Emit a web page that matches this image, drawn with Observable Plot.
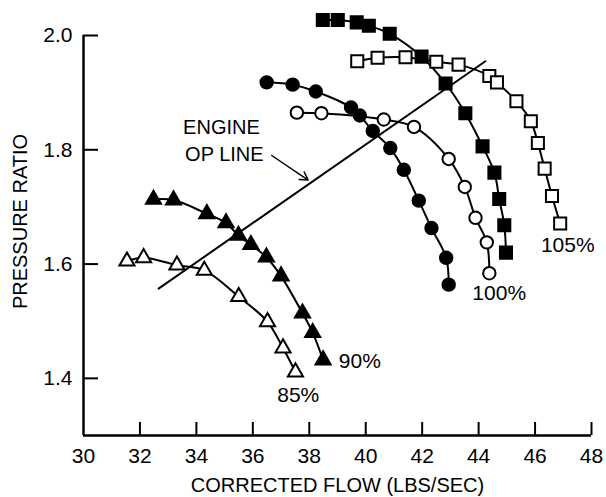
<!DOCTYPE html>
<html><head><meta charset="utf-8">
<script src="https://cdn.jsdelivr.net/npm/d3@7"></script>
<script src="https://cdn.jsdelivr.net/npm/@observablehq/plot@0.6"></script>
<style>body{margin:0;background:#fff;}</style>
</head><body><div id="chart"></div>
<script>
// Tick values
const xTicks = [32, 34, 36, 38, 40, 42, 44, 46, 48];
const yTicks = [1.4, 1.6, 1.8, 2.0];

// 85% speed (open triangles)
const flow85 = [31.54, 32.13, 33.31, 34.28, 35.50, 36.52, 37.07, 37.51];
const pr85   = [1.605, 1.611, 1.598, 1.589, 1.543, 1.499, 1.453, 1.411];
// 90% speed (filled triangles)
const flow90 = [32.48, 33.19, 34.37, 35.05, 35.49, 35.93, 36.48, 37.00, 37.76, 38.12, 38.49];
const pr90   = [1.713, 1.712, 1.688, 1.672, 1.650, 1.634, 1.612, 1.579, 1.514, 1.480, 1.432];
// filled circles
const flowFC = [36.49, 37.41, 38.23, 39.48, 39.79, 40.25, 40.87, 41.35, 41.88, 42.33, 42.85, 42.94];
const prFC   = [1.918, 1.914, 1.902, 1.874, 1.860, 1.833, 1.803, 1.765, 1.711, 1.663, 1.611, 1.564];
// 100% speed (open circles)
const flow100 = [37.56, 38.43, 40.64, 41.71, 42.94, 43.51, 43.89, 44.29, 44.38];
const pr100   = [1.865, 1.864, 1.853, 1.840, 1.784, 1.735, 1.681, 1.638, 1.584];
// filled squares
const flowFS = [38.48, 39.01, 39.68, 40.11, 40.85, 41.98, 42.83, 43.53, 44.14, 44.56, 44.73, 44.91, 44.97];
const prFS   = [2.027, 2.027, 2.023, 2.017, 2.003, 1.963, 1.916, 1.864, 1.806, 1.760, 1.714, 1.668, 1.620];
// 105% speed (open squares)
const flow105 = [39.70, 40.42, 41.41, 42.50, 43.29, 44.38, 44.65, 45.34, 45.85, 46.10, 46.34, 46.60, 46.89];
const pr105   = [1.955, 1.961, 1.962, 1.954, 1.949, 1.929, 1.918, 1.885, 1.850, 1.812, 1.767, 1.719, 1.671];

// Engine operating line
const opFlow = [32.66, 44.24];
const opPr   = [1.557, 1.955];

// Curve labels
const labelText = ["85%", "90%", "100%", "105%"];
const labelFlow = [37.61, 39.79, 44.73, 47.16];
const labelPr   = [1.371, 1.430, 1.549, 1.633];

// Annotation
const noteText = ["ENGINE", "OP LINE"];
const noteFlow = [33.53, 33.60];
const notePr   = [1.839, 1.792];
const arrowFlow = [36.67, 37.96];
const arrowPr   = [1.790, 1.747];

const FONT = "'Liberation Sans', Arial, Helvetica, sans-serif";
const idx = a => a.map((_, i) => i);

function series(fx, fy, symbol, fill) {
  return [
    Plot.line(idx(fx), {x: fx, y: fy, curve: "catmull-rom", stroke: "black", strokeWidth: 2}),
    Plot.dot(idx(fx), {x: fx, y: fy, symbol, r: symbol === "square" ? 6.8 : (symbol === "triangle" ? 5.6 : 6.2),
      fill, stroke: "black", strokeWidth: 2})
  ];
}

const chart = Plot.plot({
  width: 606,
  height: 497,
  marginLeft: 83,
  marginRight: 15,
  marginTop: 35,
  marginBottom: 62,
  x: {domain: [30, 48]},
  y: {domain: [1.3, 2.0]},
  style: {fontFamily: FONT, fontSize: "21px", background: "white", color: "black", overflow: "visible"},
  marks: [
    // axis lines
    Plot.ruleX([30], {y1: 1.3, y2: 2.0, strokeWidth: 2.5}),
    Plot.ruleY([1.3], {x1: 30, x2: 48, strokeWidth: 2.5}),
    // inward ticks
    Plot.axisX({ticks: xTicks, tickSize: -13, fill: "none", strokeWidth: 2, label: null}),
    Plot.axisY({ticks: yTicks, tickSize: -15, fill: "none", strokeWidth: 2, label: null}),
    // tick labels
    Plot.axisX({ticks: [30, ...xTicks], tickSize: 0, tickPadding: 13, fontSize: 21, label: null}),
    Plot.axisY({ticks: yTicks, tickSize: 0, tickPadding: 11, fontSize: 21, tickFormat: d => d.toFixed(1), label: null}),
    // axis titles
    Plot.text(["PRESSURE RATIO"], {frameAnchor: "left", textAnchor: "middle", dx: -63, dy: -14, rotate: -90, fontSize: 20}),
    Plot.text(["CORRECTED FLOW (LBS/SEC)"], {frameAnchor: "bottom", textAnchor: "middle", dx: 0, dy: 56, fontSize: 20}),
    // operating line
    Plot.line(idx(opFlow), {x: opFlow, y: opPr, stroke: "black", strokeWidth: 2}),
    // speed lines
    ...series(flow85, pr85, "triangle", "white"),
    ...series(flow90, pr90, "triangle", "black"),
    ...series(flowFC, prFC, "circle", "black"),
    ...series(flow100, pr100, "circle", "white"),
    ...series(flowFS, prFS, "square", "black"),
    ...series(flow105, pr105, "square", "white"),
    // labels
    Plot.text(labelText, {x: labelFlow, y: labelPr, text: d => d, fontSize: 21}),
    Plot.text(noteText, {x: noteFlow, y: notePr, text: d => d, textAnchor: "start", fontSize: 20}),
    Plot.arrow([0], {x1: arrowFlow[0], y1: arrowPr[0], x2: arrowFlow[1], y2: arrowPr[1], stroke: "black", strokeWidth: 1.5, headLength: 9})
  ]
});
document.getElementById("chart").appendChild(chart);
</script>
</body></html>
